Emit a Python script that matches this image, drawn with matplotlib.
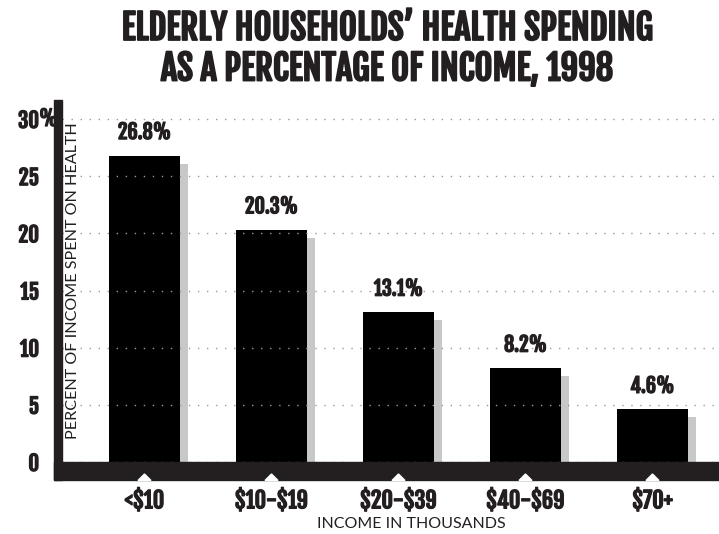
import numpy as np
import matplotlib
matplotlib.use('Agg')
import matplotlib.pyplot as plt
import matplotlib.transforms as mtransforms
import matplotlib.patheffects as pe
from matplotlib.patches import Rectangle, Polygon

plt.rcParams['text.parse_math'] = False

# data
categories = ['<$10', '$10-$19', '$20-$39', '$40-$69', '$70+']
values = [26.8, 20.3, 13.1, 8.2, 4.6]
value_labels = ['26.8%', '20.3%', '13.1%', '8.2%', '4.6%']
yticks = [0, 5, 10, 15, 20, 25, 30]
ytick_labels = ['0', '5', '10', '15', '20', '25', '30']

title = 'ELDERLY HOUSEHOLDS\u2019 HEALTH SPENDING\nAS A PERCENTAGE OF INCOME, 1998'
ylabel = 'PERCENT OF INCOME SPENT ON HEALTH'
xlabel = 'INCOME IN THOUSANDS'

narrow = ['Fjalla One', 'DejaVu Sans']
light = ['Lato', 'DejaVu Sans']
ink = '#231f20'
shadow = '#c8c8c8'
heavy = [pe.withStroke(linewidth=0.9, foreground=ink)]

# pixel layout of the figure
W, H = 719, 534
ax_left, ax_right, ax_top, ax_bottom = 62, 719, 100, 462
px_per_unit = 343 / 30   # y scale
pitch = 127              # px between bar centres
first_centre = 144.5

fig = plt.figure(figsize=(W / 100, H / 100), dpi=100)
ax = fig.add_axes([ax_left / W, 1 - ax_bottom / H,
                   (ax_right - ax_left) / W, (ax_bottom - ax_top) / H])

x = np.arange(len(categories))
ax.set_xlim(-(first_centre - ax_left) / pitch, (ax_right - first_centre) / pitch)
ax.set_ylim(0, (ax_bottom - ax_top) / px_per_unit)

bw = 71 / pitch
# grey drop shadow, then the black bars
ax.bar(x + 8 / pitch, np.array(values) - 0.7, width=bw, color=shadow, zorder=1)
ax.bar(x, values, width=bw, color='black', zorder=2)

# dotted grid, drawn over the bars
for yt in yticks:
	ax.axhline(yt, color='#9a9a9a', lw=1, ls=(0, (1, 5.5)), zorder=3)

# value labels
for xi, v, lbl in zip(x, values, value_labels):
	ax.annotate(lbl, (xi, v), xytext=(0, 9), textcoords='offset points',
		ha='center', va='bottom', fontsize=14.5, family=narrow, color=ink,
		path_effects=heavy)

for s in ax.spines.values():
	s.set_visible(False)

ax.set_yticks(yticks, ytick_labels)
ax.set_xticks(x, categories)
ax.tick_params(axis='y', length=0, pad=16.5, labelsize=15, labelcolor=ink)
ax.tick_params(axis='x', length=0, pad=19, labelsize=16, labelcolor=ink)
for t in ax.get_yticklabels() + ax.get_xticklabels():
	t.set_family(narrow)
	t.set_path_effects(heavy)

# the "%" hanging after 30
pct_tr = mtransforms.blended_transform_factory(fig.transFigure, ax.transData)
fig.text(39 / W, 30, '%', transform=pct_tr, ha='left', va='center',
	fontsize=15, family=narrow, color=ink, path_effects=heavy)

# heavy frame: left post and base bar
fig.add_artist(Rectangle((54 / W, 1 - 480 / H), 8 / W, (480 - 100) / H,
	transform=fig.transFigure, color=ink, zorder=5))
fig.add_artist(Rectangle((54 / W, 1 - 480 / H), (719 - 54) / W, 18 / H,
	transform=fig.transFigure, color=ink, zorder=5))

# little white notches under each category
tri_tr = mtransforms.blended_transform_factory(ax.transData, fig.transFigure)
hw = 6.5 / pitch
for xi in x:
	tri = Polygon([(xi - hw, 1 - 480.5 / H), (xi + hw, 1 - 480.5 / H), (xi, 1 - 474 / H)],
		closed=True, transform=tri_tr, color='white', zorder=6)
	fig.add_artist(tri)

fig.text(387 / W, 1 - 9 / H, title, ha='center', va='top', fontsize=25,
	family=narrow, color=ink, linespacing=1.05,
	path_effects=[pe.withStroke(linewidth=1.3, foreground=ink)])
fig.text(73 / W, 1 - 281 / H, ylabel, rotation=90, ha='center', va='center',
	fontsize=11.6, family=light, color=ink)
fig.text(411 / W, 1 - 524 / H, xlabel, ha='center', va='center',
	fontsize=11.5, family=light, color=ink)

fig.savefig('out.png', dpi=100)
